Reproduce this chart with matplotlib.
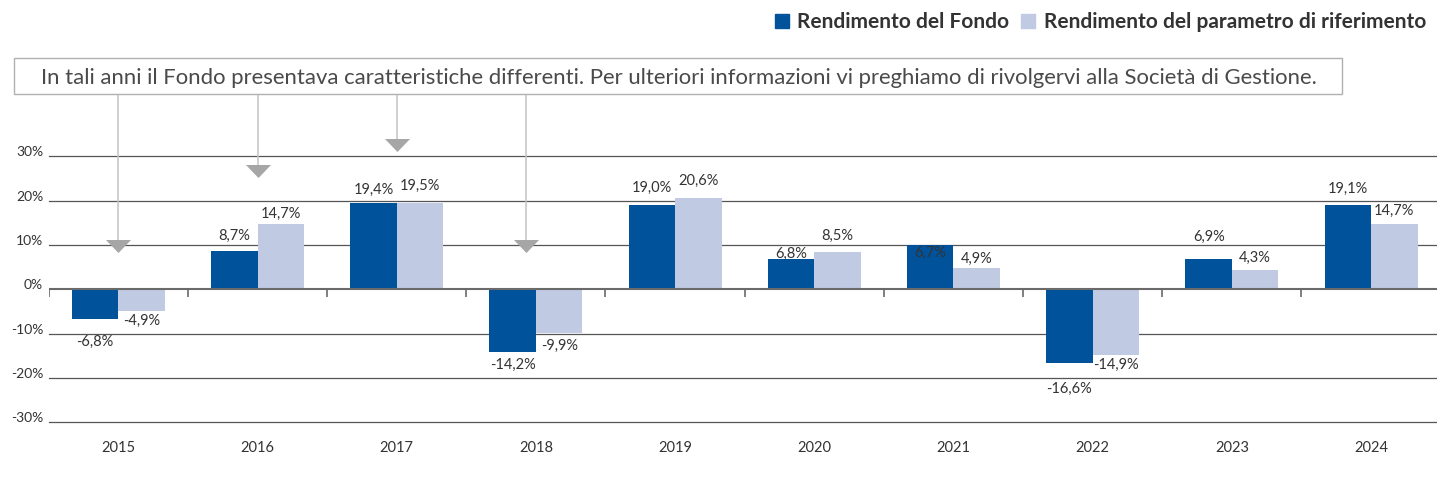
import matplotlib
matplotlib.use("Agg")
import matplotlib.pyplot as plt
from matplotlib.lines import Line2D
from matplotlib.patches import Rectangle
import numpy as np

plt.rcParams['font.family'] = ['Lato', 'DejaVu Sans']

years = ['2015', '2016', '2017', '2018', '2019', '2020', '2021', '2022', '2023', '2024']
# bar heights as drawn, and the values printed above them
fund_bar = [-6.8, 8.7, 19.4, -14.2, 19.0, 6.8, 10.0, -16.6, 6.9, 19.1]
bench_bar = [-4.9, 14.7, 19.5, -9.9, 20.6, 8.5, 4.9, -14.9, 4.3, 14.7]
fund_lbl = [-6.8, 8.7, 19.4, -14.2, 19.0, 6.8, 6.7, -16.6, 6.9, 19.1]
bench_lbl = [-4.9, 14.7, 19.5, -9.9, 20.6, 8.5, 4.9, -14.9, 4.3, 14.7]
yticks = [-30, -20, -10, 0, 10, 20, 30]

legend_names = ['Rendimento del Fondo', 'Rendimento del parametro di riferimento']
note = ("In tali anni il Fondo presentava caratteristiche differenti. Per ulteriori "
        "informazioni vi preghiamo di rivolgervi alla Società di Gestione.")

# layout: label nudges (pixels, + is up) and arrow positions
fund_dy = [-22, 15, 13.5, -13, 17.5, 5.6, 6.3, -26, 21.4, 15.5]
bench_dy = [-10, 10.6, 17, -13, 17, 16, 9, -9.5, 12.7, 13]
arrow_x = [0, 1, 2, 2.93]
arrow_y = [9.7, 26.7, 32.5, 9.7]

DARK = '#00529b'
LIGHT = '#c0cae3'
TXT = '#333333'

W, H = 1437, 479
fig = plt.figure(figsize=(W / 100, H / 100), dpi=100)
ax = fig.add_axes([48.7 / W, 1 - 422.2 / H, 1 - 48.7 / W, (422.2 - 156.4) / H])

x = np.arange(len(years))
bw = 0.334
ax.bar(x - bw / 2, fund_bar, bw, color=DARK, zorder=3)
ax.bar(x + bw / 2, bench_bar, bw, color=LIGHT, zorder=3)

for t in yticks:
    if t == 0:
        continue
    ax.axhline(t, color='#555555', lw=0.9, zorder=1, clip_on=False)
ax.axhline(0, color='#6a6a6a', lw=1.5, zorder=4)
ax.vlines(np.arange(-0.5, len(years), 1), -1.7, 0, color='#6a6a6a', lw=1.2, zorder=4)

ax.set_xlim(-0.5, (W - 48.7) / 139.2 - 0.5)
ax.set_ylim(-30, 30)
for s in ax.spines.values():
    s.set_visible(False)

ax.set_xticks(x, years)
ax.tick_params(axis='x', length=0, pad=13.5, labelsize=10.5, labelcolor=TXT)
ax.set_yticks(yticks, [f'{t}%' for t in yticks])
ax.tick_params(axis='y', length=0, pad=4, labelsize=10, labelcolor=TXT)
for lb in ax.get_yticklabels():
    lb.set_verticalalignment('baseline')


def fmt(v):
    return f'{v:.1f}%'.replace('.', ',')


for i in range(len(years)):
    ax.annotate(fmt(fund_lbl[i]), (x[i] - bw / 2, fund_lbl[i]), xytext=(0, fund_dy[i]),
                textcoords='offset pixels', ha='center', va='center',
                fontsize=10.5, color=TXT, zorder=5)
    ax.annotate(fmt(bench_lbl[i]), (x[i] + bw / 2, bench_lbl[i]), xytext=(0, bench_dy[i]),
                textcoords='offset pixels', ha='center', va='center',
                fontsize=10.5, color=TXT, zorder=5)

# note box with connectors down to the affected years
box_bottom = (289.3 - 94.3) / 4.43
tri = [(-1, 0.52), (1, 0.52), (0, -0.52)]
for ax_x, ay in zip(arrow_x, arrow_y):
    ax.plot([ax_x, ax_x], [box_bottom, ay], color='#c4c4c4', lw=1.1,
            clip_on=False, zorder=2)
    ax.plot([ax_x], [ay], marker=tri, ms=18, color='#a6a6a6', mec='none',
            clip_on=False, zorder=6)

fig.patches.append(Rectangle((14 / W, 1 - 94.3 / H), (1342 - 14) / W, 36.3 / H,
                             transform=fig.transFigure, facecolor='white',
                             edgecolor='#b0b0b0', lw=1.0, zorder=10))
fig.text(679 / W, 1 - 83.7 / H, note, ha='center', va='baseline', fontsize=15.9,
         color='#4a4a4a', zorder=11)

handles = [Line2D([], [], ls='none', marker='s', ms=10.5, color=DARK),
           Line2D([], [], ls='none', marker='s', ms=10.5, color=LIGHT)]
leg = fig.legend(handles, legend_names, loc='center right',
                 bbox_to_anchor=(1426 / W, 1 - 22 / H), ncol=2, frameon=False,
                 handlelength=0.8, handletextpad=0.35, columnspacing=0.5,
                 borderpad=0, borderaxespad=0,
                 prop={'size': 15, 'weight': 'bold'})
for t in leg.get_texts():
    t.set_color(TXT)

fig.savefig('out.png', dpi=100)
